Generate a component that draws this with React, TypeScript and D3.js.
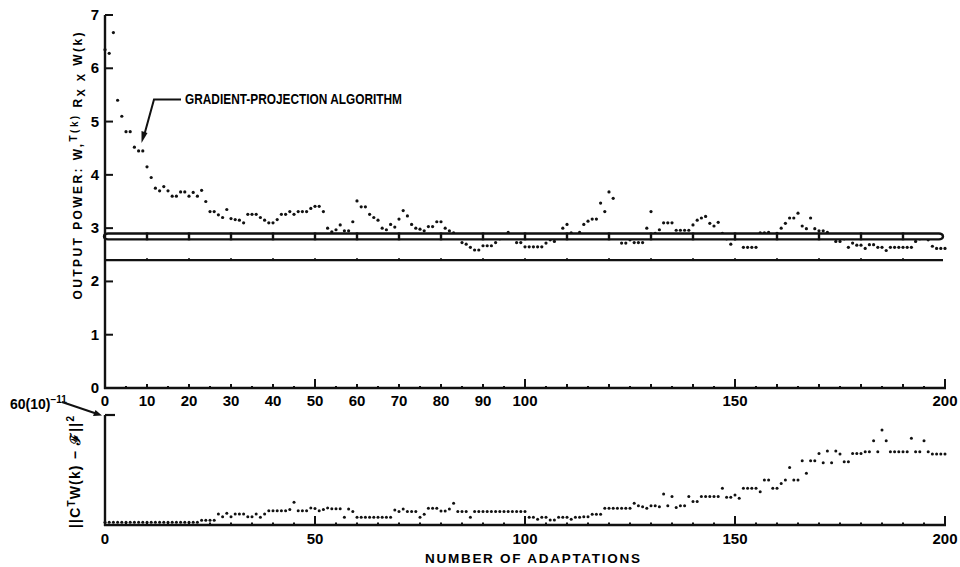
import * as d3 from "d3";

// output power W'(k) Rxx W(k), one value per adaptation k = 0..200
const outputPower = [
  6.35, 6.28, 6.67, 5.4, 5.1, 4.81, 4.81, 4.52, 4.45, 4.45,
  4.15, 3.95, 3.75, 3.7, 3.78, 3.7, 3.6, 3.6, 3.68, 3.68,
  3.6, 3.67, 3.6, 3.71, 3.5, 3.31, 3.31, 3.25, 3.2, 3.35,
  3.18, 3.16, 3.15, 3.1, 3.26, 3.26, 3.26, 3.2, 3.15, 3.1,
  3.1, 3.16, 3.26, 3.26, 3.31, 3.26, 3.31, 3.31, 3.31, 3.37,
  3.41, 3.41, 3.31, 3.0, 2.93, 2.97, 3.06, 2.95, 2.95, 3.12,
  3.51, 3.4, 3.4, 3.26, 3.2, 3.15, 3.0, 2.97, 3.07, 3.02,
  3.17, 3.33, 3.23, 3.07, 3.0, 2.98, 2.95, 3.03, 3.03, 3.12,
  3.12, 3.0, 2.95, 2.91, 2.85, 2.73, 2.7, 2.64, 2.59, 2.59,
  2.67, 2.67, 2.67, 2.73, 2.8, 2.88, 2.92, 2.82, 2.73, 2.73,
  2.65, 2.65, 2.65, 2.65, 2.65, 2.72, 2.78, 2.75, 2.85, 3.0,
  3.07, 2.91, 2.88, 2.92, 3.07, 3.13, 3.17, 3.17, 3.47, 3.31,
  3.68, 3.56, 2.85, 2.72, 2.72, 2.78, 2.73, 2.73, 2.73, 3.0,
  3.31, 2.9, 2.97, 3.1, 3.1, 3.1, 2.96, 2.96, 2.96, 2.96,
  3.06, 3.15, 3.19, 3.22, 3.09, 3.04, 3.11, 2.9, 2.8, 2.7,
  2.8, 2.85, 2.64, 2.64, 2.64, 2.64, 2.91, 2.91, 2.92, 2.88,
  2.9, 3.0, 3.09, 3.19, 3.19, 3.28, 3.04, 2.99, 3.19, 2.99,
  2.95, 2.95, 2.92, 2.85, 2.75, 2.75, 2.8, 2.64, 2.72, 2.68,
  2.68, 2.62, 2.69, 2.69, 2.64, 2.64, 2.58, 2.64, 2.64, 2.64,
  2.64, 2.64, 2.64, 2.75, 2.8, 2.82, 2.78, 2.66, 2.62, 2.62,
  2.62,
];

// constraint error ||C'W(k) - F||^2 in units of 10^-11
const constraintError = [
  1.5, 1.5, 1.5, 1.5, 1.5, 1.5, 1.5, 1.5, 1.5, 1.5,
  1.5, 1.5, 1.5, 1.5, 1.5, 1.5, 1.5, 1.5, 1.5, 1.5,
  1.5, 1.5, 1.5, 2.6, 2.6, 2.6, 2.6,
  6.0, 4.5, 6.4, 4.5, 6.0, 6.0, 6.0, 4.5, 4.5, 6.0,
  4.2, 6.0, 7.8, 7.8, 7.8, 7.8, 7.8, 8.5, 12.4, 7.8,
  7.8, 7.8, 9.3, 9.0, 7.8, 8.5, 9.3, 8.9, 8.9, 8.9,
  4.2, 8.7, 7.3, 4.2, 4.2, 4.2, 4.2, 4.2, 4.2, 4.2,
  4.2, 4.2, 8.2, 7.3, 8.7, 7.3, 7.3, 7.3, 4.2, 5.8,
  9.1, 9.1, 9.1, 7.6, 7.6, 8.7, 11.8, 7.3, 7.3, 7.3,
  4.2,
  7.3, 7.3, 7.3, 7.3, 7.3, 7.3, 7.3, 7.3, 7.3, 7.3, 7.3, 7.3, 7.3,
  4.2, 4.2, 3.1, 4.2, 4.2, 2.7, 2.7, 4.2, 4.2, 4.2,
  3.1, 4.2, 4.2, 4.5, 4.5, 5.8, 5.8, 5.8,
  9.1, 9.1, 9.1, 9.1, 9.1, 9.1, 9.1,
  11.8, 10.5, 10.0, 9.1, 10.5, 10.5, 10.0,
  16.9, 10.5, 15.5, 9.6, 10.5, 10.5, 15.5, 12.8, 12.8,
  15.5, 15.5, 15.5, 15.5, 15.5, 20.0, 15.1, 15.1, 16.4, 14.6,
  20, 20, 20, 20, 18.2, 24.6, 24.6, 20, 20, 22.7,
  24.5, 31.3, 24.6, 24.6, 35, 28.2, 35, 35, 39, 34,
  40.4, 34, 40.4, 38.7, 34.5, 34.5, 39, 39, 39, 40,
  40, 46, 40, 51.8, 46, 40, 40, 40, 40, 40,
  47.3, 40, 40, 46, 40, 38.7, 38.7, 38.7, 38.7,
];

const topXLabels = [0, 10, 20, 30, 40, 50, 60, 70, 80, 90, 100, 150, 200];
const bottomXLabels = [0, 50, 100, 150, 200];
const topYTicks = [0, 1, 2, 3, 4, 5, 6, 7];
const bandLow = 2.79;
const bandHigh = 2.9;
const floorLine = 2.4;

const W = 960;
const H = 567;
const font = "'Liberation Sans', Arial, sans-serif";

export default function App() {
  const x = d3.scaleLinear().domain([0, 200]).range([105, 945]);
  const yTop = d3.scaleLinear().domain([0, 7]).range([388, 15]);
  const yBot = d3.scaleLinear().domain([0, 60]).range([525, 415]);
  const fives = d3.range(0, 201, 5);
  const tens = d3.range(10, 200, 10);

  const tickLen = (k: number) => (k % 50 === 0 ? 9 : k % 10 === 0 ? 4 : 2);

  return (
    <svg
      width={W}
      height={H}
      style={{ position: "absolute", left: 0, top: 0, background: "#fff" }}
      fontFamily={font}
      fontWeight="bold"
    >
      <rect width={W} height={H} fill="#fff" />

      {/* upper panel points */}
      <g fill="#111">
        {outputPower.map((v, i) => (
          <circle key={i} cx={x(i)} cy={yTop(v)} r={1.6} />
        ))}
      </g>

      {/* reference band and floor line */}
      <rect
        x={x(0) - 1}
        y={yTop(bandHigh)}
        width={x(200) - x(0) - 1}
        height={yTop(bandLow) - yTop(bandHigh)}
        rx={4}
        fill="#fff"
        stroke="#111"
        strokeWidth={2.4}
      />
      {tens.map((k) => (
        <line
          key={k}
          x1={x(k)}
          x2={x(k)}
          y1={yTop(bandHigh) - 1}
          y2={yTop(bandLow) + 1}
          stroke="#111"
          strokeWidth={2.4}
        />
      ))}
      <line x1={x(0)} x2={x(200) - 2} y1={yTop(floorLine)} y2={yTop(floorLine)} stroke="#111" strokeWidth={2.2} />
      {tens.map((k) => (
        <line key={"f" + k} x1={x(k)} x2={x(k)} y1={yTop(floorLine) - 2} y2={yTop(floorLine) + 1} stroke="#111" strokeWidth={1.5} />
      ))}

      {/* upper axes */}
      <line x1={x(0)} x2={x(0)} y1={yTop(7)} y2={yTop(0) + 1} stroke="#111" strokeWidth={2.4} />
      <line x1={x(0) - 1} x2={x(200) + 1} y1={yTop(0)} y2={yTop(0)} stroke="#111" strokeWidth={2.4} />
      {topYTicks.map((t) => (
        <g key={t}>
          <line x1={x(0)} x2={x(0) + 8} y1={yTop(t)} y2={yTop(t)} stroke="#111" strokeWidth={2} />
          <text x={99} y={yTop(t) + 5} textAnchor="end" fontSize={15}>
            {t}
          </text>
        </g>
      ))}
      {fives.map((k) => (
        <line key={k} x1={x(k)} x2={x(k)} y1={yTop(0)} y2={yTop(0) - tickLen(k)} stroke="#111" strokeWidth={2} />
      ))}
      {topXLabels.map((k) => (
        <text key={k} x={x(k)} y={406} textAnchor="middle" fontSize={15}>
          {k}
        </text>
      ))}

      {/* annotation */}
      <text x={185} y={104} fontSize={14} textLength={217} lengthAdjust="spacingAndGlyphs">
        GRADIENT-PROJECTION ALGORITHM
      </text>
      <polyline points="181,99.5 154,99.5 144.5,134" fill="none" stroke="#111" strokeWidth={2} />
      <polygon points="141.5,143 141.5,131 147.5,133" fill="#111" />

      {/* upper y label */}
      <text transform="translate(82,166) rotate(-90)" textAnchor="middle" fontSize={12} textLength={267}>
        OUTPUT POWER: W,
        <tspan dy={-5} fontSize={10}>T</tspan>
        <tspan dy={1} fontSize={10}>(k)</tspan>
        <tspan dy={4}> R</tspan>
        <tspan dy={3} fontSize={11}>X X</tspan>
        <tspan dy={-3}> W(k)</tspan>
      </text>

      {/* lower panel */}
      <g fill="#111">
        {constraintError.map((v, i) => (
          <circle key={i} cx={x(i)} cy={yBot(v)} r={1.5} />
        ))}
      </g>
      <line x1={x(0)} x2={x(0)} y1={yBot(60)} y2={yBot(0) + 1} stroke="#111" strokeWidth={2.4} />
      <line x1={x(0)} x2={x(0) + 10} y1={yBot(60)} y2={yBot(60)} stroke="#111" strokeWidth={2.2} />
      <line x1={x(0) - 1} x2={x(200) + 1} y1={yBot(0)} y2={yBot(0)} stroke="#111" strokeWidth={2.4} />
      {fives.map((k) => (
        <line
          key={k}
          x1={x(k)}
          x2={x(k)}
          y1={yBot(0)}
          y2={yBot(0) - (k % 50 === 0 ? 9 : 2.5)}
          stroke="#111"
          strokeWidth={2}
        />
      ))}
      {bottomXLabels.map((k) => (
        <text key={k} x={x(k)} y={544} textAnchor="middle" fontSize={15}>
          {k}
        </text>
      ))}
      <text x={425} y={563} fontSize={13.5} textLength={215}>
        NUMBER OF ADAPTATIONS
      </text>

      {/* lower y label and scale marker */}
      <text transform="translate(80,472) rotate(-90)" textAnchor="middle" fontSize={14} textLength={112}>
        ||C
        <tspan dy={-5} fontSize={10}>T</tspan>
        <tspan dy={5}>W(k) − ℱ||</tspan>
        <tspan dy={-6} fontSize={10}>2</tspan>
      </text>
      <text x={10} y={409} fontSize={14}>
        60(10)
        <tspan dy={-6} fontSize={10}>−11</tspan>
      </text>
      <line x1={62} y1={402} x2={96} y2={413.5} stroke="#111" strokeWidth={2} />
      <polygon points="102,415.5 93,416 95.5,410" fill="#111" />
    </svg>
  );
}
